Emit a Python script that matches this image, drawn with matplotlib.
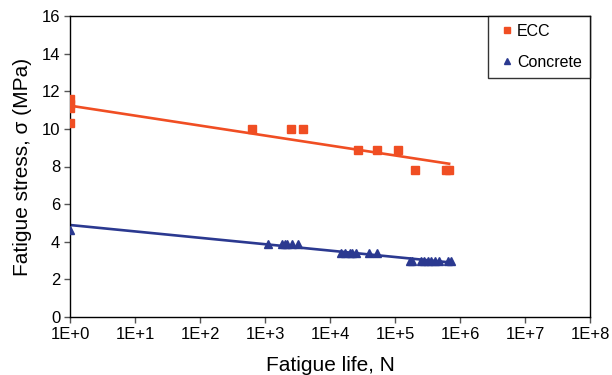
import numpy as np
import matplotlib
matplotlib.use("Agg")
import matplotlib.pyplot as plt

plt.rcParams['font.family'] = ['Liberation Sans', 'DejaVu Sans']

# ECC fatigue results: cycles to failure and stress level (MPa)
ecc_cycles = [1, 1, 1, 1, 620, 2500, 3850, 27000, 52000, 112000, 205000, 600000, 680000]
ecc_stress = [11.6, 11.3, 11.1, 10.3, 10.0, 10.0, 10.0, 8.9, 8.9, 8.9, 7.8, 7.8, 7.8]

# Plain concrete fatigue results
concrete_cycles = [1, 1100, 1800, 2000, 2200, 2600, 3200,
                   15000, 17000, 20000, 22000, 25000, 40000, 52000,
                   170000, 180000, 250000, 280000, 320000, 360000, 420000,
                   480000, 650000, 720000]
concrete_stress = [4.6, 3.9, 3.9, 3.9, 3.9, 3.9, 3.9,
                   3.4, 3.4, 3.4, 3.4, 3.4, 3.4, 3.4,
                   2.95, 2.95, 2.95, 2.95, 2.95, 2.95, 2.95,
                   2.95, 2.95, 2.95]

x_tick_labels = ['1E+0', '1E+1', '1E+2', '1E+3', '1E+4', '1E+5', '1E+6', '1E+7', '1E+8']

ecc_color = '#F04E23'
con_color = '#2B3990'

fig = plt.figure(figsize=(6.12, 3.75), dpi=100)
ax = fig.add_axes([0.1144, 0.1547, 0.8496, 0.8026])


def log_trend(cycles, stress):
    lx = np.log10(np.asarray(cycles, dtype=float))
    slope, intercept = np.polyfit(lx, np.asarray(stress, dtype=float), 1)
    xs = np.logspace(lx.min(), lx.max(), 50)
    return xs, intercept + slope * np.log10(xs)


xs, ys = log_trend(ecc_cycles, ecc_stress)
ax.plot(xs, ys, color=ecc_color, lw=1.9, zorder=2)
xs, ys = log_trend(concrete_cycles, concrete_stress)
ax.plot(xs, ys, color=con_color, lw=1.9, zorder=2)

ax.plot(ecc_cycles, ecc_stress, ls='none', marker='s', ms=5.5,
        color=ecc_color, label='ECC', zorder=3)
ax.plot(concrete_cycles, concrete_stress, ls='none', marker='^', ms=6,
        color=con_color, label='Concrete', zorder=3)

ax.set_xscale('log')
ax.set_xlim(1, 1e8)
ax.set_ylim(0, 16)
ax.set_xticks([10.0 ** i for i in range(9)])
ax.set_xticklabels(x_tick_labels)
ax.xaxis.set_minor_locator(matplotlib.ticker.NullLocator())
ax.set_yticks(range(0, 17, 2))

ax.tick_params(axis='both', direction='out', length=4, width=1,
               color='#555555', labelsize=12, labelcolor='black', pad=3)
for sp in ax.spines.values():
    sp.set_linewidth(1.0)
    sp.set_color('black')

ax.set_xlabel('Fatigue life, N', fontsize=15, labelpad=10)
ax.set_ylabel('Fatigue stress, σ (MPa)', fontsize=15, labelpad=7)

leg = ax.legend(loc='upper right', bbox_to_anchor=(1.0, 1.0), fontsize=11.5,
                frameon=True, fancybox=False, borderaxespad=0,
                handlelength=1.3, handletextpad=0.0, labelspacing=1.0,
                borderpad=0.5, markerscale=0.8)
leg.get_frame().set_edgecolor('black')
leg.get_frame().set_linewidth(1.0)

fig.savefig('out.png', dpi=100)
